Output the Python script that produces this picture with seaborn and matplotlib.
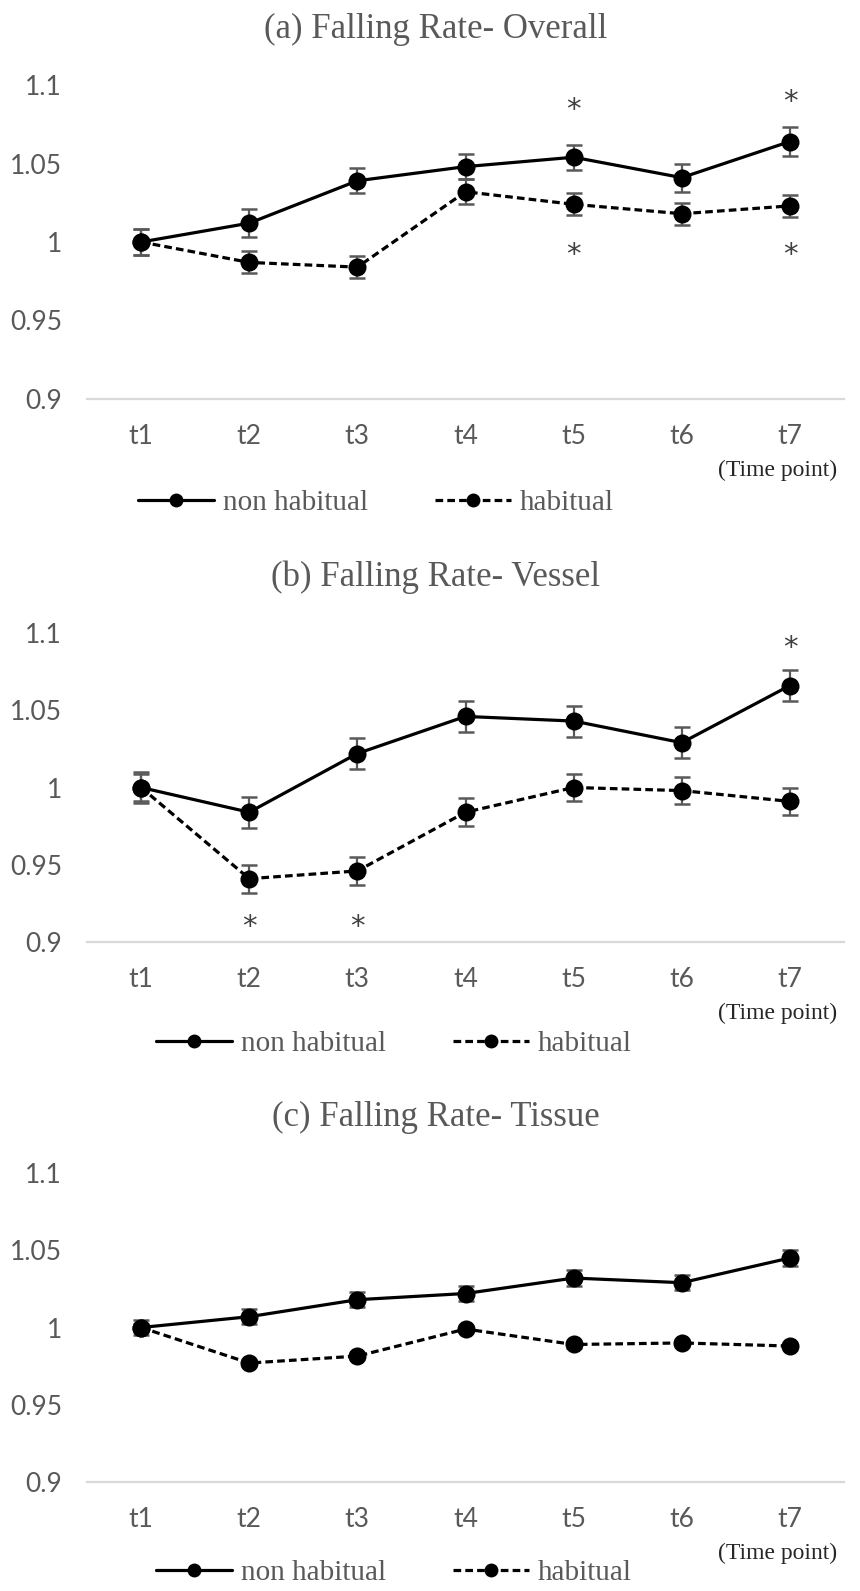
import matplotlib
matplotlib.use("Agg")
import matplotlib.pyplot as plt
import seaborn as sns
import pandas as pd
import numpy as np
from matplotlib.lines import Line2D

# ---------------- data ----------------
time_points = ["t1", "t2", "t3", "t4", "t5", "t6", "t7"]
y_ticks = [0.9, 0.95, 1.0, 1.05, 1.1]
y_tick_labels = ["0.9", "0.95", "1", "1.05", "1.1"]
groups = ["non habitual", "habitual"]
titles = ["(a) Falling Rate- Overall", "(b) Falling Rate- Vessel", "(c) Falling Rate- Tissue"]

overall_non_habitual = [1.000, 1.012, 1.039, 1.048, 1.054, 1.041, 1.064]
overall_habitual = [1.000, 0.987, 0.984, 1.032, 1.024, 1.018, 1.023]
overall_non_habitual_err = [0.008, 0.009, 0.008, 0.008, 0.008, 0.009, 0.009]
overall_habitual_err = [0.008, 0.007, 0.007, 0.008, 0.007, 0.007, 0.007]

vessel_non_habitual = [1.000, 0.984, 1.022, 1.046, 1.043, 1.029, 1.066]
vessel_habitual = [1.000, 0.941, 0.946, 0.984, 1.000, 0.998, 0.991]
vessel_non_habitual_err = [0.010, 0.010, 0.010, 0.010, 0.010, 0.010, 0.010]
vessel_habitual_err = [0.009, 0.009, 0.009, 0.009, 0.009, 0.009, 0.009]

tissue_non_habitual = [1.000, 1.007, 1.018, 1.022, 1.032, 1.029, 1.045]
tissue_habitual = [1.000, 0.977, 0.9815, 0.999, 0.989, 0.990, 0.988]
tissue_non_habitual_err = [0.005, 0.005, 0.005, 0.005, 0.005, 0.005, 0.005]
tissue_habitual_err = [0.002, 0.002, 0.002, 0.002, 0.002, 0.002, 0.002]

# significance marks (time index, y position)
overall_stars = [(4, 1.084), (6, 1.089), (4, 0.992), (6, 0.992)]
vessel_stars = [(1, 0.910), (2, 0.910), (6, 1.090)]
tissue_stars = []

panels = [
    (overall_non_habitual, overall_habitual, overall_non_habitual_err, overall_habitual_err, overall_stars),
    (vessel_non_habitual, vessel_habitual, vessel_non_habitual_err, vessel_habitual_err, vessel_stars),
    (tissue_non_habitual, tissue_habitual, tissue_non_habitual_err, tissue_habitual_err, tissue_stars),
]

# ---------------- layout ----------------
W, H = 860, 1591
sns.set_theme(style="white")
plt.rcParams["font.family"] = ["Lato", "DejaVu Sans"]

fig = plt.figure(figsize=(W / 100, H / 100), dpi=100)

ax_px = [(85, 399), (633, 942), (1173, 1482)]
title_base = [38, 586, 1126]
legend_x = [138, 156, 156]
legend_y = [503, 1044, 1573]
timept_y = [470, 1013, 1553]
left_px, right_px = 87, 844

GRAY = "#595959"
serif = ["Liberation Serif", "DejaVu Serif"]

for i, (nh, hb, nh_e, hb_e, stars) in enumerate(panels):
    top, bot = ax_px[i]
    ax = fig.add_axes([left_px / W, 1 - bot / H, (right_px - left_px) / W, (bot - top) / H])

    df = pd.DataFrame({
        "time": list(range(len(time_points))) * 2,
        "value": list(nh) + list(hb),
        "group": [groups[0]] * len(nh) + [groups[1]] * len(hb),
    })

    x = np.arange(len(time_points))
    ax.errorbar(x, nh, yerr=nh_e, fmt="none", ecolor=GRAY, elinewidth=1.6,
                capsize=5.5, capthick=1.8, zorder=1)
    ax.errorbar(x, hb, yerr=hb_e, fmt="none", ecolor=GRAY, elinewidth=1.6,
                capsize=5.5, capthick=1.8, zorder=1)

    sns.lineplot(data=df, x="time", y="value", style="group",
                 style_order=groups,
                 dashes={groups[0]: "", groups[1]: (2.4, 1.3)},
                 markers={groups[0]: "o", groups[1]: "o"},
                 markersize=13, markeredgewidth=0,
                 color="black", linewidth=2.3, legend=False, ax=ax, zorder=3)

    for (xi, yi) in stars:
        ax.text(xi, yi, "*", ha="center", va="center", fontsize=21,
                color="#404040", family=["DejaVu Sans"], zorder=4)

    ax.set_xlim(-0.5, len(time_points) - 0.5)
    ax.set_ylim(0.9, 1.1)
    ax.set_xticks(x)
    ax.set_xticklabels(time_points)
    ax.set_yticks(y_ticks)
    ax.set_yticklabels(y_tick_labels)
    ax.set_xlabel("")
    ax.set_ylabel("")
    ax.tick_params(axis="both", length=0, labelsize=19, labelcolor=GRAY)
    ax.tick_params(axis="x", pad=18)
    ax.tick_params(axis="y", pad=18)
    for s in ["top", "right", "left"]:
        ax.spines[s].set_visible(False)
    ax.spines["bottom"].set_color("#d9d9d9")
    ax.spines["bottom"].set_linewidth(1.6)
    ax.grid(False)
    ax.set_facecolor("none")

    fig.text(436 / W, 1 - title_base[i] / H, titles[i], ha="center", va="baseline",
             fontsize=25, color=GRAY, family=serif)
    fig.text(837 / W, 1 - timept_y[i] / H, "(Time point)", ha="right", va="center",
             fontsize=17, color="#262626", family=serif)

    handles = [
        Line2D([], [], color="black", linestyle="-", linewidth=2.3, marker="o",
               markersize=10, markeredgewidth=0),
        Line2D([], [], color="black", linestyle=(0, (2.4, 1.3)), linewidth=2.3, marker="o",
               markersize=10, markeredgewidth=0),
    ]
    fig.legend(handles, groups, loc="center left",
               bbox_to_anchor=(legend_x[i] / W, 1 - legend_y[i] / H),
               ncol=2, frameon=False, borderpad=0, borderaxespad=0,
               handlelength=2.6, handletextpad=0.3, columnspacing=2.3,
               prop={"family": serif, "size": 21}, labelcolor=GRAY)

fig.savefig("out.png", dpi=100)
